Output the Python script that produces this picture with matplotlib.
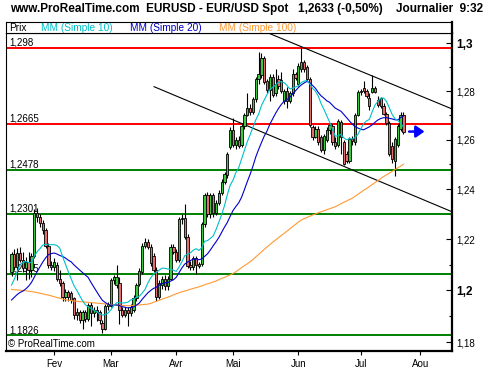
import numpy as np
import pandas as pd
import matplotlib
matplotlib.use("Agg")
import matplotlib.pyplot as plt
from matplotlib.ticker import NullFormatter

plt.rcParams['font.family'] = ['Liberation Sans', 'DejaVu Sans']

# ---------------- data ----------------
start_date = "2006-01-11"

opens = [1.2070, 1.2140, 1.2090, 1.2145, 1.2120, 1.2085, 1.2110, 1.2080, 1.2135, 1.2305,
         1.2290, 1.2265, 1.2235, 1.2175, 1.2100, 1.2090, 1.2098, 1.2045, 1.2027, 1.1972,
         1.1995, 1.1990, 1.1969, 1.1903, 1.1916, 1.1886, 1.1916, 1.1888, 1.1942, 1.1912,
         1.1925, 1.1916, 1.1872, 1.1852, 1.1938, 1.1940, 1.2040, 1.2020, 1.2030, 1.1925,
         1.1905, 1.1925, 1.1912, 1.1925, 1.1970, 1.2025, 1.2072, 1.2175, 1.2190, 1.2170,
         1.2135, 1.2080, 1.1972, 1.2020, 1.2045, 1.2015, 1.2045, 1.2170, 1.2150, 1.2120,
         1.2280, 1.2283, 1.2210, 1.2100, 1.2090, 1.2125, 1.2095, 1.2102, 1.2260, 1.2375,
         1.2300, 1.2375, 1.2305, 1.2345, 1.2385, 1.2430, 1.2455, 1.2570, 1.2640, 1.2580,
         1.2600, 1.2580, 1.2655, 1.2702, 1.2730, 1.2712, 1.2765, 1.2850, 1.2865, 1.2937,
         1.2840, 1.2805, 1.2860, 1.2790, 1.2850, 1.2845, 1.2760, 1.2800, 1.2760, 1.2790,
         1.2870, 1.2830, 1.2890, 1.2920, 1.2900, 1.2850, 1.2650, 1.2612, 1.2645, 1.2610,
         1.2556, 1.2600, 1.2640, 1.2655, 1.2590, 1.2578, 1.2610, 1.2590, 1.2540, 1.2515,
         1.2602, 1.2590, 1.2703, 1.2798, 1.2812, 1.2800, 1.2770, 1.2798, 1.2812, 1.2764,
         1.2770, 1.2737, 1.2705, 1.2668, 1.2575, 1.2512, 1.2580, 1.2645, 1.2703]
highs = [1.2150, 1.2160, 1.2165, 1.2170, 1.2150, 1.2130, 1.2150, 1.2145, 1.2320, 1.2325,
         1.2300, 1.2275, 1.2245, 1.2185, 1.2115, 1.2125, 1.2110, 1.2080, 1.2035, 1.2005,
         1.2000, 1.1998, 1.1975, 1.1930, 1.1925, 1.1925, 1.1925, 1.1950, 1.1955, 1.1935,
         1.1938, 1.1925, 1.1885, 1.1945, 1.1955, 1.2048, 1.2060, 1.2098, 1.2050, 1.1935,
         1.1935, 1.1935, 1.1945, 1.1980, 1.2030, 1.2085, 1.2185, 1.2205, 1.2200, 1.2180,
         1.2145, 1.2090, 1.2040, 1.2055, 1.2060, 1.2055, 1.2180, 1.2180, 1.2160, 1.2290,
         1.2300, 1.2340, 1.2220, 1.2115, 1.2135, 1.2135, 1.2110, 1.2270, 1.2385, 1.2390,
         1.2385, 1.2385, 1.2355, 1.2395, 1.2440, 1.2470, 1.2550, 1.2650, 1.2690, 1.2610,
         1.2615, 1.2665, 1.2710, 1.2790, 1.2745, 1.2775, 1.2860, 1.2965, 1.2958, 1.2945,
         1.2850, 1.2870, 1.2870, 1.2890, 1.2865, 1.2880, 1.2810, 1.2815, 1.2800, 1.2890,
         1.2880, 1.2915, 1.2985, 1.2930, 1.2910, 1.2860, 1.2660, 1.2655, 1.2655, 1.2620,
         1.2625, 1.2650, 1.2670, 1.2665, 1.2610, 1.2685, 1.2680, 1.2600, 1.2555, 1.2610,
         1.2615, 1.2710, 1.2805, 1.2810, 1.2840, 1.2810, 1.2790, 1.2868, 1.2820, 1.2780,
         1.2775, 1.2750, 1.2715, 1.2675, 1.2590, 1.2610, 1.2665, 1.2712, 1.2712]
lows = [1.2055, 1.2080, 1.2040, 1.2110, 1.2070, 1.2040, 1.2045, 1.2050, 1.2125, 1.2270,
        1.2250, 1.2220, 1.2165, 1.2085, 1.2080, 1.2075, 1.2035, 1.2015, 1.1960, 1.1960,
        1.1960, 1.1950, 1.1890, 1.1885, 1.1875, 1.1852, 1.1878, 1.1880, 1.1862, 1.1895,
        1.1880, 1.1870, 1.1833, 1.1845, 1.1925, 1.1935, 1.2025, 1.2010, 1.1870, 1.1895,
        1.1895, 1.1862, 1.1900, 1.1915, 1.1960, 1.2015, 1.2065, 1.2165, 1.2160, 1.2095,
        1.2070, 1.1960, 1.1965, 1.2005, 1.2000, 1.2000, 1.2040, 1.2140, 1.2110, 1.2110,
        1.2260, 1.2200, 1.2085, 1.2080, 1.2080, 1.2065, 1.2085, 1.2095, 1.2250, 1.2290,
        1.2285, 1.2290, 1.2295, 1.2335, 1.2375, 1.2420, 1.2445, 1.2560, 1.2570, 1.2560,
        1.2565, 1.2570, 1.2645, 1.2695, 1.2700, 1.2705, 1.2755, 1.2830, 1.2855, 1.2830,
        1.2790, 1.2760, 1.2775, 1.2780, 1.2810, 1.2790, 1.2745, 1.2730, 1.2750, 1.2780,
        1.2845, 1.2820, 1.2880, 1.2880, 1.2840, 1.2650, 1.2600, 1.2605, 1.2580, 1.2550,
        1.2543, 1.2590, 1.2625, 1.2580, 1.2560, 1.2570, 1.2540, 1.2495, 1.2505, 1.2505,
        1.2580, 1.2580, 1.2695, 1.2785, 1.2790, 1.2770, 1.2720, 1.2790, 1.2790, 1.2735,
        1.2730, 1.2700, 1.2660, 1.2535, 1.2507, 1.2454, 1.2570, 1.2635, 1.2625]
closes = [1.2140, 1.2090, 1.2145, 1.2120, 1.2085, 1.2110, 1.2080, 1.2135, 1.2305, 1.2290,
          1.2265, 1.2235, 1.2175, 1.2100, 1.2090, 1.2110, 1.2045, 1.2027, 1.1972, 1.1995,
          1.1972, 1.1962, 1.1903, 1.1916, 1.1886, 1.1916, 1.1888, 1.1942, 1.1912, 1.1925,
          1.1916, 1.1884, 1.1852, 1.1938, 1.1945, 1.2040, 1.2050, 1.2050, 1.1922, 1.1905,
          1.1925, 1.1912, 1.1935, 1.1970, 1.2020, 1.2075, 1.2175, 1.2190, 1.2170, 1.2105,
          1.2080, 1.1972, 1.2030, 1.2045, 1.2015, 1.2045, 1.2170, 1.2150, 1.2120, 1.2280,
          1.2285, 1.2210, 1.2095, 1.2090, 1.2125, 1.2100, 1.2102, 1.2260, 1.2375, 1.2300,
          1.2375, 1.2305, 1.2345, 1.2385, 1.2430, 1.2460, 1.2540, 1.2640, 1.2580, 1.2600,
          1.2575, 1.2655, 1.2702, 1.2730, 1.2712, 1.2765, 1.2850, 1.2872, 1.2937, 1.2838,
          1.2805, 1.2860, 1.2785, 1.2830, 1.2820, 1.2800, 1.2800, 1.2760, 1.2790, 1.2870,
          1.2855, 1.2905, 1.2920, 1.2890, 1.2850, 1.2660, 1.2612, 1.2645, 1.2590, 1.2556,
          1.2615, 1.2640, 1.2660, 1.2590, 1.2575, 1.2675, 1.2672, 1.2500, 1.2515, 1.2602,
          1.2596, 1.2703, 1.2798, 1.2802, 1.2800, 1.2778, 1.2737, 1.2812, 1.2798, 1.2741,
          1.2737, 1.2705, 1.2668, 1.2541, 1.2521, 1.2602, 1.2655, 1.2703, 1.2633]

# closes of the 19 sessions before the first visible candle (for MM 10 / MM 20)
prior_closes = [1.1880, 1.1930, 1.1960, 1.1980, 1.1940, 1.1870, 1.1850, 1.1880, 1.1870, 1.1880,
                1.1860, 1.1850, 1.1840, 1.2010, 1.2060, 1.2130, 1.2140, 1.2050, 1.2120]

# MM (Simple 100)
ma100 = [1.2003, 1.2002, 1.2001, 1.2000, 1.1999, 1.1998, 1.1996, 1.1995,
         1.1993, 1.1991, 1.1988, 1.1986, 1.1983, 1.1981, 1.1978, 1.1975, 1.1972, 1.1969, 1.1966, 1.1963,
         1.1961, 1.1960, 1.1958, 1.1957, 1.1956, 1.1955, 1.1954, 1.1953, 1.1952, 1.1951, 1.1950, 1.1949,
         1.1948, 1.1947, 1.1945, 1.1944, 1.1943, 1.1942, 1.1941, 1.1941, 1.1940, 1.1940, 1.1940,
         1.1941, 1.1942, 1.1943, 1.1944, 1.1945, 1.1946,
         1.1949, 1.1953, 1.1957, 1.1961, 1.1965, 1.1969,
         1.1973, 1.1977, 1.1982, 1.1986, 1.1990, 1.1994,
         1.1997, 1.2000, 1.2004, 1.2007, 1.2010, 1.2013,
         1.2017, 1.2021, 1.2025, 1.2028, 1.2032, 1.2036,
         1.2041, 1.2046, 1.2050, 1.2055, 1.2060, 1.2065,
         1.2072, 1.2080, 1.2088, 1.2096, 1.2103, 1.2111,
         1.2120, 1.2130, 1.2140, 1.2150, 1.2160, 1.2170,
         1.2179, 1.2188, 1.2197, 1.2206, 1.2215, 1.2223,
         1.2232, 1.2241, 1.2250, 1.2259, 1.2268, 1.2276,
         1.2281, 1.2286, 1.2291, 1.2296, 1.2300, 1.2305,
         1.2309, 1.2313, 1.2317, 1.2321, 1.2325, 1.2329,
         1.2335, 1.2341, 1.2347, 1.2352, 1.2358, 1.2363,
         1.2371, 1.2379, 1.2387, 1.2395, 1.2402, 1.2410,
         1.2418, 1.2426, 1.2434, 1.2442, 1.2450, 1.2457,
         1.2464, 1.2471, 1.2478, 1.2485, 1.2492, 1.2500]

red_levels = [1.298, 1.2665]
green_levels = [1.2478, 1.2301, 1.2065, 1.1826]

trend_upper_x = [91.0, 155.1]
trend_upper_y = [1.3040, 1.2726]
trend_lower_x = [50.2, 155.1]
trend_lower_y = [1.2818, 1.2309]

last_price = 1.2633
arrow_x = [140.0, 145.4]

month_names = {2: "Fev", 3: "Mar", 4: "Avr", 5: "Mai", 6: "Jun", 7: "Jul", 8: "Aou"}
ytick_major = [1.18, 1.20, 1.22, 1.24, 1.26, 1.28, 1.30]
ytick_labels = ["1,18", "1,2", "1,22", "1,24", "1,26", "1,28", "1,3"]
ytick_minor = [1.19, 1.21, 1.23, 1.25, 1.27, 1.29]

title_left = "www.ProRealTime.com  EURUSD - EUR/USD Spot"
title_mid = "1,2633 (-0,50%)"
title_right = "Journalier  9:32"

# ---------------- derived ----------------
n = len(closes)
xs = np.arange(n)
all_c = pd.Series(prior_closes + closes)
ma10 = all_c.rolling(10).mean().to_numpy()[len(prior_closes):]
ma20 = all_c.rolling(20).mean().to_numpy()[len(prior_closes):]

dates = pd.bdate_range(start_date, periods=170)
month_pos, month_lab = [], []
for k in range(1, len(dates)):
    if dates[k].month != dates[k - 1].month and dates[k].month in month_names:
        month_pos.append(k)
        month_lab.append(month_names[dates[k].month])

# ---------------- figure ----------------
W, H = 500, 370
fig = plt.figure(figsize=(W / 100, H / 100), dpi=100)
fig.patch.set_facecolor("white")


def rect(x0, y0, x1, y1):
    return [x0 / W, 1 - y1 / H, (x1 - x0) / W, (y1 - y0) / H]


ax = fig.add_axes(rect(6, 33, 452, 351))
ax.set_yscale("log")
ax.set_xlim(-1.94, 155.1)
ax.set_ylim(1.1766, 1.3043)

# horizontal levels
for lv in red_levels:
    ax.axhline(lv, color="#ff0000", lw=1.4, zorder=2)
for lv in green_levels:
    ax.axhline(lv, color="#008000", lw=1.4, zorder=2)
for lv in red_levels + green_levels:
    ax.annotate(f"{lv:g}".replace(".", ","), xy=(0, lv), xycoords=("axes fraction", "data"),
                xytext=(2.5, 1.6), textcoords="offset points", fontsize=7, va="baseline",
                ha="left", color="black", zorder=1)

# trend lines
ax.plot(trend_upper_x, trend_upper_y, color="black", lw=0.8, zorder=3)
ax.plot(trend_lower_x, trend_lower_y, color="black", lw=0.8, zorder=3)

# candles
o = np.array(opens)
c = np.array(closes)
ax.vlines(xs, lows, highs, color="black", lw=0.8, zorder=4)
bottoms = np.minimum(o, c)
heights = np.abs(c - o)
cols = np.where(c >= o, "#3cc83c", "#e07070")
ax.bar(xs, heights, bottom=bottoms, width=0.8, color=cols, edgecolor="black",
       linewidth=0.6, zorder=5)

# moving averages
ax.plot(xs, ma100, color="#ff9933", lw=0.8, zorder=6)
ax.plot(xs, ma20, color="#0000cc", lw=0.8, zorder=6)
ax.plot(xs, ma10, color="#00c0c8", lw=0.8, zorder=6)

# arrow at last price
ax.annotate("", xy=(arrow_x[1], last_price), xytext=(arrow_x[0], last_price),
            arrowprops=dict(arrowstyle="-|>,head_length=0.5,head_width=0.35",
                            color="#0000ff", lw=1.8, mutation_scale=10,
                            shrinkA=0, shrinkB=0), zorder=7)

ax.text(2 / 446, 7 / 318, "\u00a9 ProRealTime.com", transform=ax.transAxes,
        fontsize=7, va="center", ha="left", zorder=8)

# axes styling
for s in ["left", "top"]:
    ax.spines[s].set_linewidth(0.8)
for s in ["right", "bottom"]:
    ax.spines[s].set_linewidth(1.6)

ax.yaxis.tick_right()
ax.set_yticks(ytick_major, ytick_labels)
ax.set_yticks(ytick_minor, minor=True)
ax.yaxis.set_minor_formatter(NullFormatter())
ax.tick_params(axis="y", which="major", direction="in", length=4, width=0.8,
               pad=3, labelsize=7, right=True, left=False)
ax.tick_params(axis="y", which="minor", direction="in", length=2.2, width=0.8,
               right=True, left=False)
for lbl in ax.get_yticklabels():
    if lbl.get_text() in ("1,3", "1,2"):
        lbl.set_fontweight("bold")
        lbl.set_fontsize(8.5)

ax.set_xticks(month_pos, month_lab)
ax.tick_params(axis="x", which="major", direction="out", length=3, width=0.8,
               pad=3, labelsize=7, bottom=True, top=False)
ax.tick_params(axis="x", which="minor", bottom=False)

# legend band
lax = fig.add_axes(rect(6, 22, 452, 33))
lax.set_xticks([])
lax.set_yticks([])
lax.set_xlim(0, 446)
lax.set_ylim(0, 1)
for s in ["left", "top", "bottom"]:
    lax.spines[s].set_linewidth(0.8)
lax.spines["right"].set_linewidth(1.6)
for txt, px, col in [("Prix", 3, "black"), ("MM (Simple 10)", 35, "#00c0c8"),
                     ("MM (Simple 20)", 124, "#0000cc"), ("MM (Simple 100)", 213, "#ff9933")]:
    lax.text(px, 0.45, txt, color=col, fontsize=7.3, va="center", ha="left")

# header
fig.text(10 / W, 1 - 9 / H, title_left, fontsize=8.5, fontweight="bold", va="center", ha="left")
fig.text(298 / W, 1 - 9 / H, title_mid, fontsize=8.5, fontweight="bold", va="center", ha="left")
fig.text(396 / W, 1 - 9 / H, title_right, fontsize=8.5, fontweight="bold", va="center", ha="left")

fig.savefig("out.png", dpi=100, facecolor="white")
